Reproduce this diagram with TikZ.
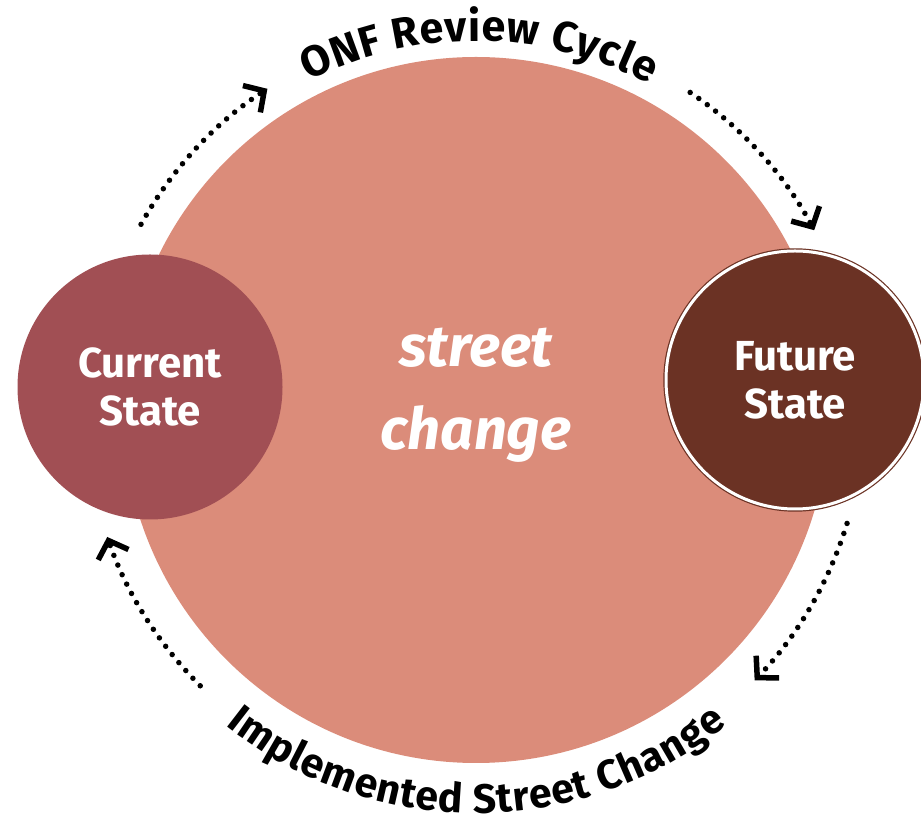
\documentclass[tikz,border=0pt]{standalone}
\usepackage{fontspec}
\setmainfont{Fira Sans}
\usetikzlibrary{arrows.meta, calc, decorations.text}

\definecolor{streetsalmon}{RGB}{219,140,122}
\definecolor{currentred}{RGB}{161,79,84}
\definecolor{futurebrown}{RGB}{107,50,36}

\newcommand{\cyclefont}{\fontsize{43}{43}\selectfont\bfseries}
\newcommand{\implfont}{\fontsize{41}{41}\selectfont\bfseries}

\tikzstyle{bigcircle} = [circle, minimum size=706pt, inner sep=0pt, fill=streetsalmon]
\tikzstyle{statecircle} = [circle, inner sep=0pt, text=white, align=center, font=\fontsize{42}{48}\selectfont\bfseries]
\tikzstyle{current} = [statecircle, minimum size=265pt, fill=currentred]
\tikzstyle{future} = [statecircle, minimum size=258pt, fill=futurebrown, draw=futurebrown, double=white, double distance=3pt, line width=1.2pt]
\tikzstyle{changetext} = [text=white, align=center, inner sep=0pt, font=\fontsize{58}{83}\selectfont\bfseries\itshape]
\tikzstyle{cyclearrow} = [line width=5.5pt, line cap=round, dash pattern=on 0pt off 10.5pt, -{Straight Barb[length=15pt, width=32pt]}]

\begin{document}
\begin{tikzpicture}[x=1pt, y=1pt]
\useasboundingbox (0,0) rectangle (921,822);

% Circles
\node (big) [bigcircle] at (476,412) {};
\node (chg) [changetext] at ($(big)+(0,15)$) {street\\change};
\node (cur) [current] at (150,435) {Current\\State};
\node (fut) [future] at (795,442) {Future\\State};

% Cycle arrows
\coordinate (onfa) at ($(big)+(151:383pt)$);
\coordinate (onfb) at ($(big)+(56:383pt)$);
\coordinate (impa) at ($(big)+(-17:388pt)$);
\coordinate (impb) at ($(big)+(225:390pt)$);
\draw [cyclearrow] (onfa) arc[start angle=151, end angle=123, radius=383pt];
\draw [cyclearrow] (onfb) arc[start angle=56, end angle=28, radius=383pt];
\draw [cyclearrow] (impa) arc[start angle=-17, end angle=-44, radius=390pt];
\draw [cyclearrow] (impb) arc[start angle=225, end angle=199, radius=390pt];

% Labels
\coordinate (onftext) at ($(big)+(117:369pt)$);
\coordinate (imptext) at ($(big)+(231.5:403pt)$);
\path [decorate, decoration={text along path, text align=fit to path, text={|\cyclefont|ONF Review Cycle}}]
  (onftext) arc[start angle=117, end angle=62, radius=369pt];
\path [decorate, decoration={text along path, text align=fit to path, text={|\implfont|Implemented Street Change}}]
  (imptext) arc[start angle=231.5, end angle=308.5, radius=403pt];

\end{tikzpicture}
\end{document}
